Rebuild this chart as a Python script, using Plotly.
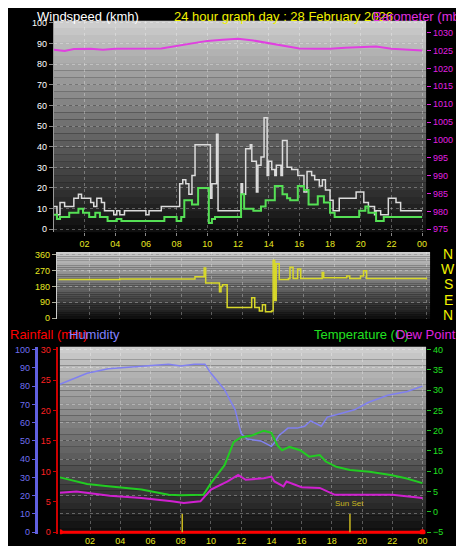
import plotly.graph_objects as go

# --- wind speed (kmh), step data
gust_h = [0, 0.2, 0.4, 0.7, 1.3, 1.6, 1.8, 2.4, 2.6, 2.8, 3.1, 3.3, 3.9, 4.1, 4.3, 4.6, 6.0, 6.2, 7.0, 7.8, 8.2, 8.4,
          8.6, 8.8, 9.0, 9.2, 9.8, 10.2, 10.3, 10.6, 10.7, 11.8, 12.2, 12.3, 12.5, 12.8, 12.9, 13.2, 13.3, 13.5,
          13.7, 13.9, 14.0, 14.2, 14.4, 14.5, 14.8, 14.9, 15.2, 15.5, 15.9, 16.3, 16.5, 16.8, 17.0, 17.3, 17.5,
          17.7, 18.0, 18.2, 18.6, 19.3, 19.7, 20.2, 20.5, 20.9, 21.0, 21.3, 21.8, 22.3, 22.6, 24.0]
gust_v = [11, 7, 13, 11, 15, 17, 15, 13, 11, 15, 13, 9, 7, 9, 7, 9, 7, 9, 11, 11, 22, 24,
          22, 17, 26, 41, 41, 15, 22, 46, 9, 9, 22, 17, 39, 41, 33, 18, 31, 35,
          54, 26, 33, 29, 26, 31, 26, 43, 30, 29, 26, 18, 28, 26, 24, 21, 24,
          19, 14, 9, 15, 15, 18, 13, 11, 7, 9, 7, 15, 13, 9, 9]
avg_h = [0, 0.2, 0.4, 1.0, 1.6, 1.9, 2.3, 2.7, 3.0, 3.5, 4.1, 4.4, 7.2, 8.0, 8.3, 8.5, 9.0, 9.4, 10.0, 10.1, 10.3,
         10.5, 11.9, 12.2, 12.4, 13.0, 13.5, 13.8, 14.4, 14.9, 15.2, 15.4, 15.9, 16.3, 16.6, 17.2, 17.6, 18.0,
         18.3, 19.3, 19.9, 20.3, 20.5, 21.0, 21.5, 22.2, 24.0]
avg_v = [7, 5, 6, 8, 10, 8, 6, 8, 6, 4, 5, 4, 6, 4, 6, 14, 12, 20, 20, 3, 5,
         6, 6, 17, 10, 9, 11, 14, 21, 17, 15, 14, 21, 19, 12, 16, 13, 8,
         6, 6, 9, 11, 8, 4, 6, 6, 6]
baro_h = [0, 0.7, 1.3, 2.4, 3.2, 4, 7, 8, 9, 10, 11, 12, 13, 14, 15, 16, 17, 18, 19, 20, 21, 22, 23, 24]
baro_v = [1025.2, 1024.9, 1025.4, 1025.5, 1025.2, 1025.5, 1025.6, 1026.3, 1027.0, 1027.7, 1028.0, 1028.3, 1027.8,
          1027.0, 1026.2, 1025.6, 1025.5, 1025.5, 1025.8, 1026.0, 1026.1, 1025.5, 1025.3, 1025.0]

# --- wind direction (deg)
dir_h = [0, 4, 8.9, 9.5, 9.6, 10.5, 10.6, 10.7, 11.0, 12.5, 12.6, 12.8, 13.1, 13.3, 13.5, 13.9, 14.0, 14.1,
         14.2, 14.4, 15.0, 15.1, 15.3, 15.6, 15.8, 17.2, 17.3, 18.5, 18.8, 19.0, 19.7, 19.9, 20.1, 21.0, 24.0]
dir_v = [220, 222, 235, 285, 200, 150, 180, 190, 60, 60, 115, 60, 40, 75, 35, 40, 330, 100,
         310, 220, 225, 290, 225, 280, 225, 260, 230, 230, 240, 225, 240, 270, 225, 225, 220]

# --- humidity / temperature / dew point
hum_h = [0, 0.9, 1.8, 3.2, 5.4, 7.2, 8.0, 8.9, 9.6, 10.0, 10.9, 11.6, 12.0, 12.4, 13.3, 14.0, 14.2, 14.5, 15.1,
         15.7, 16.2, 16.6, 17.3, 17.7, 18.6, 19.5, 20.4, 21.7, 23.0, 24.0]
hum_v = [81, 84, 87, 89.5, 91, 92, 91, 92, 92, 87, 78, 67, 54, 51, 50, 47, 49, 53, 57,
         57, 58, 61, 58, 63, 65, 67, 71, 75, 77, 80]
temp_h = [0, 1.8, 3.2, 5.4, 7.2, 8.0, 9.5, 10.0, 10.9, 11.5, 12.0, 12.7, 13.5, 14.0, 14.4, 14.7, 15.2, 15.9,
          16.5, 17.2, 17.6, 18.3, 19.2, 20.5, 21.9, 22.9, 24.0]
temp_v = [8.5, 6.9, 6.3, 5.5, 4.2, 4.1, 4.2, 7.1, 11.5, 17.2, 18.4, 18.8, 20.0, 19.5, 16.4, 15.2, 16.0, 15.2,
          13.6, 14.0, 12.4, 11.1, 10.3, 9.9, 9.1, 8.3, 7.1]
dew_h = [0, 1.1, 3.3, 5.4, 7.4, 8.2, 9.3, 10.0, 11.1, 11.8, 12.3, 13.5, 14.0, 14.2, 14.8, 15.0, 16.0, 17.2,
         18.2, 20.0, 22.0, 24.0]
dew_v = [4.7, 5.0, 4.0, 3.4, 2.6, 2.2, 2.6, 5.5, 7.5, 9.1, 7.9, 8.3, 8.7, 7.5, 6.3, 7.5, 6.1, 5.9,
         4.2, 4.2, 4.2, 3.4]
rain_h = [0, 24]
rain_v = [0, 0]
sun_h = [8.1, 19.2]

hours = list(range(2, 25, 2))
hour_text = ["%02d" % (h % 24) for h in hours]

FONT = "Liberation Sans"
YEL = "#e8e820"
fig = go.Figure()

fig.add_trace(go.Scatter(x=gust_h, y=gust_v, line=dict(color="#dcdcdc", width=1.5, shape="hv"), xaxis="x", yaxis="y"))
fig.add_trace(go.Scatter(x=avg_h, y=avg_v, line=dict(color="#55e055", width=2, shape="hv"), xaxis="x", yaxis="y"))
fig.add_trace(go.Scatter(x=baro_h, y=baro_v, line=dict(color="#e040e0", width=2), xaxis="x", yaxis="y2"))
fig.add_trace(go.Scatter(x=dir_h, y=dir_v, line=dict(color="#d8d82a", width=1.5, shape="hv"), xaxis="x2", yaxis="y3"))
fig.add_trace(go.Scatter(x=hum_h, y=hum_v, line=dict(color="#8080f0", width=1.5), xaxis="x3", yaxis="y4"))
fig.add_trace(go.Scatter(x=rain_h, y=rain_v, line=dict(color="#ff0000", width=3), xaxis="x3", yaxis="y5"))
fig.add_trace(go.Scatter(x=temp_h, y=temp_v, line=dict(color="#22cc22", width=2), xaxis="x3", yaxis="y6"))
fig.add_trace(go.Scatter(x=dew_h, y=dew_v, line=dict(color="#d020d0", width=2), xaxis="x3", yaxis="y6"))

# gradient backgrounds
shapes = []
n = 30
for xr, yr in [("x", "y"), ("x2", "y3"), ("x3", "y4")]:
    for i in range(n):
        c = int(205 - 190 * i / (n - 1))
        shapes.append(dict(type="rect", xref=xr + " domain", yref=yr + " domain", x0=0, x1=1,
                           y0=1 - (i + 1) / n, y1=1 - i / n, fillcolor="rgb(%d,%d,%d)" % (c, c, c),
                           line_width=0, layer="below"))
for s in sun_h:
    shapes.append(dict(type="line", xref="x3", yref="y4", x0=s, x1=s, y0=0, y1=10, line=dict(color="#c8b820", width=1.5)))
fig.update_layout(shapes=shapes)

tick = dict(size=9, family=FONT)
grid = dict(showgrid=True, gridcolor="rgba(255,255,255,0.3)", griddash="dot", zeroline=False)
fig.update_layout(
    width=464, height=546, margin=dict(l=0, r=0, t=0, b=0),
    paper_bgcolor="black", plot_bgcolor="black", showlegend=False,
    font=dict(family=FONT),
    xaxis=dict(domain=[0.0991, 0.903], range=[0, 24.26], tickvals=hours, ticktext=hour_text,
               tickfont=dict(color=YEL, **tick), anchor="y", ticks="outside", ticklen=3, tickcolor="#888", **grid),
    yaxis=dict(domain=[0.5897, 0.9817], range=[-1.4, 101], dtick=10, tickfont=dict(color="white", **tick),
               ticks="outside", ticklen=4, tickcolor="#888", showline=True, linecolor="#999", **grid),
    yaxis2=dict(overlaying="y", side="right", range=[974.2, 1033.3], dtick=5, showgrid=False, zeroline=False,
                tickfont=dict(color="#e020e0", **tick), ticks="outside", ticklen=4, tickcolor="#e020e0", anchor="x"),
    xaxis2=dict(domain=[0.1056, 0.9116], range=[-0.11, 24.24], tickvals=hours, showticklabels=False,
                anchor="y3", **grid),
    yaxis3=dict(domain=[0.4286, 0.553], range=[-5.6, 377], tickvals=[0, 90, 180, 270, 360],
                tickfont=dict(color=YEL, **tick), ticks="outside", ticklen=4, tickcolor="#aa9", anchor="x2",
                showline=True, linecolor="#ccc", **grid),
    xaxis3=dict(domain=[0.1121, 0.903], range=[0, 24.24], tickvals=hours, ticktext=hour_text,
                tickfont=dict(color=YEL, **tick), anchor="y4", **grid),
    yaxis4=dict(domain=[0.0293, 0.3773], range=[-1.08, 101.6], dtick=10, tickfont=dict(color="#7070f0", **tick),
                anchor="free", position=0.06, showline=True, linecolor="#6060e0", linewidth=3,
                ticks="outside", ticklen=3, tickcolor="#6060e0", **grid),
    yaxis5=dict(overlaying="y4", range=[-0.32, 30.5], dtick=5, tickfont=dict(color="#ff2020", **tick),
                anchor="free", position=0.105, showgrid=False, zeroline=False, showline=True,
                linecolor="#cc0000", linewidth=2, ticks="outside", ticklen=3, tickcolor="#cc0000"),
    yaxis6=dict(overlaying="y4", side="right", range=[-5.49, 40.7], dtick=5, anchor="x3",
                tickfont=dict(color="#20e020", **tick), showgrid=False, zeroline=False,
                ticks="outside", ticklen=4, tickcolor="#20c020"),
)

def label(text, x, y, color, size=13, xanchor="left", xshift=-8):
    fig.add_annotation(text=text, x=x / 464, y=1 - y / 546, xref="paper", yref="paper", showarrow=False,
                       xanchor=xanchor, yanchor="middle", xshift=xshift,
                       font=dict(color=color, size=size, family=FONT))

label("Windspeed (kmh)", 35, 6, "white")
label("24 hour graph day : 28 February 2026", 172, 6, "#f0f000")
label("Barometer (mb)", 372, 6, "#e030e0")
label("Rainfall (mm)", 0, 328, "#ff0000", xshift=0)
label("Humidity", 67, 328, "#8080ff")
label("Temperature (C)", 313, 328, "#20e020")
label("Dew Point (C)", 395, 328, "#e020e0")
for i, d in enumerate(["N", "W", "S", "E", "N"]):
    label(d, 441, 246 + i * 15.5, "#f0f000", size=14, xanchor="center", xshift=0)
fig.add_annotation(text="Sun Set", x=19.2, y=12, xref="x3", yref="y4", showarrow=False, yanchor="bottom",
                   font=dict(color="#c8b820", size=8, family=FONT))

fig.write_html("out.html")
